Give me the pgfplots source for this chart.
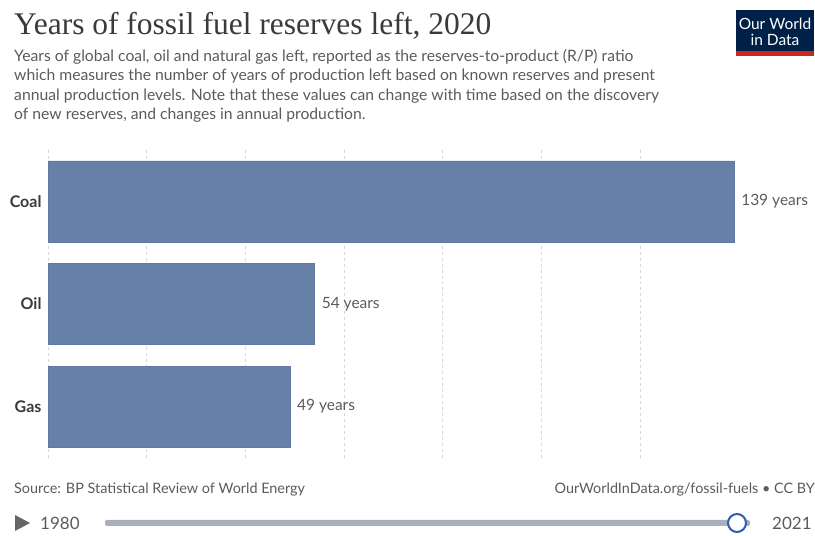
\documentclass[border=0pt]{standalone}
\usepackage{pgfplots}
\pgfplotsset{compat=1.18}
\usepackage{fontspec}
\setmainfont{Lato}
\newfontfamily\titlefont{Liberation Serif}

\definecolor{barblue}{HTML}{6780A8}
\definecolor{baredge}{HTML}{5F79A3}
\definecolor{titlegray}{HTML}{3A3A3A}
\definecolor{subgray}{HTML}{5B5B5B}
\definecolor{owidnavy}{HTML}{002147}
\definecolor{owidred}{HTML}{CE261E}
\definecolor{trackgray}{HTML}{A8B0BB}
\definecolor{knobblue}{HTML}{2F5DAA}

\pgfplotstableread{
idx years
0 139
1 54
2 49
}\reserves

\begin{document}
\begin{tikzpicture}[x=1bp,y=1bp]
\useasboundingbox (0,0) rectangle (815,536);

% title and subtitle
\node[anchor=base west, inner sep=0pt, text=titlegray]
  at (14,501) {\titlefont\fontsize{31.5bp}{34bp}\selectfont Years of fossil fuel reserves left, 2020};
\node[anchor=north west, inner sep=0pt, text=subgray, align=left,
  font=\fontsize{15.7bp}{19.5bp}\selectfont]
  at (14,487) {Years of global coal, oil and natural gas left, reported as the reserves-to-product (R/P) ratio\\
  which measures the number of years of production left based on known reserves and present\\
  annual production levels. Note that these values can change with time based on the discovery\\
  of new reserves, and changes in annual production.};

% logo
\fill[owidnavy] (736,480) rectangle (814,526);
\fill[owidred] (736,480) rectangle (814,485);
\node[text=white, inner sep=0pt, anchor=base] at (775,506)
  {\fontsize{15.5bp}{17bp}\selectfont Our World};
\node[text=white, inner sep=0pt, anchor=base] at (775,490)
  {\fontsize{15.5bp}{17bp}\selectfont in Data};

\begin{axis}[
  at={(48bp,78bp)}, anchor=south west,
  width=686bp, height=308bp, scale only axis,
  xmin=0, xmax=139, ymin=-0.5, ymax=2.5,
  y dir=reverse,
  xbar, bar width=0.79,
  axis line style={draw=none},
  xtick={20,40,60,80,100,120}, xticklabels={},
  xmajorgrids,
  major grid style={dashed, draw=black!16, line width=0.8bp},
  extra x ticks={0}, extra x tick labels={},
  extra x tick style={grid style={solid, draw=black!45, line width=1.2bp}},
  ytick={0,1,2}, yticklabels={Coal,Oil,Gas},
  major tick length=0pt,
  yticklabel style={font=\bfseries\fontsize{16bp}{18bp}\selectfont, text=titlegray, xshift=-3bp},
  clip=false,
  nodes near coords={\pgfmathprintnumber[assume math mode=true]{\pgfplotspointmeta} years},
  point meta=x,
  nodes near coords style={anchor=west, inner sep=0pt, xshift=7bp,
    font=\fontsize{15.5bp}{17bp}\selectfont, text=subgray},
]
\addplot[fill=barblue, draw=baredge, line width=0.5bp] table[x=years, y=idx] {\reserves};
\end{axis}

% footer
\node[anchor=base west, inner sep=0pt, text=subgray] at (14,42)
  {\fontsize{14.4bp}{16bp}\selectfont Source: BP Statistical Review of World Energy};
\node[anchor=base east, inner sep=0pt, text=subgray] at (815,42)
  {\fontsize{14.4bp}{16bp}\selectfont OurWorldInData.org/fossil-fuels \textbullet{} CC BY};

% timeline
\fill[black!60] (15,21) -- (15,5) -- (30,13) -- cycle;
\node[anchor=base west, inner sep=0pt, text=subgray] at (40,6)
  {\fontsize{17bp}{19bp}\selectfont 1980};
\fill[trackgray, rounded corners=1.5bp] (105,10) rectangle (750,16);
\draw[knobblue, line width=2bp, fill=white] (737,13) circle (9);
\node[anchor=base west, inner sep=0pt, text=subgray] at (772,6)
  {\fontsize{17bp}{19bp}\selectfont 2021};
\end{tikzpicture}
\end{document}
